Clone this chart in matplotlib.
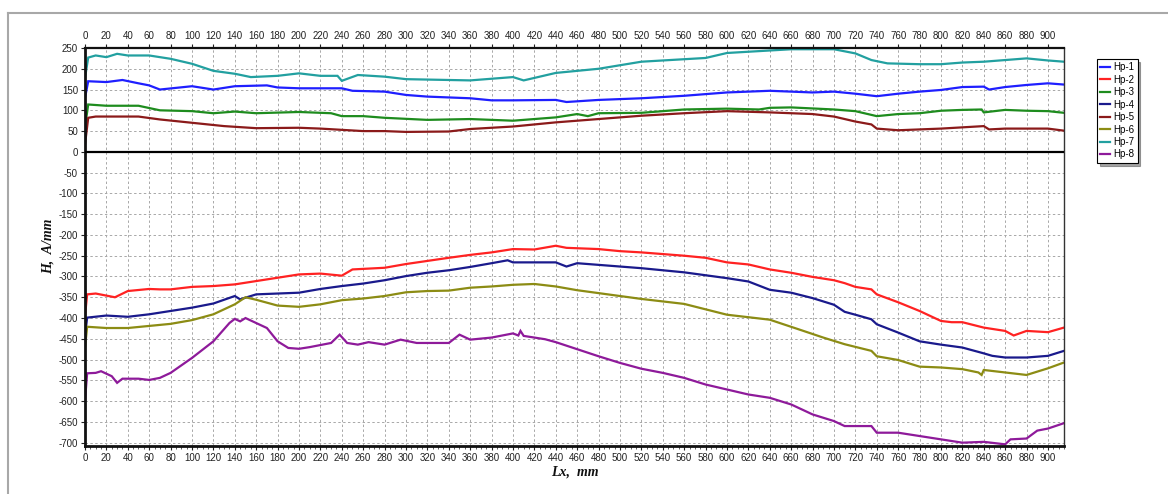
import matplotlib
matplotlib.use("Agg")
import matplotlib.pyplot as plt
from matplotlib.lines import Line2D
from matplotlib.ticker import MultipleLocator

plt.rcParams["font.family"] = ["Liberation Sans", "DejaVu Sans"]
plt.rcParams["axes.unicode_minus"] = False

# --- probe traces: position along the sample (mm) and field strength (A/mm) ---
hp1_x = [0, 3, 20, 35, 50, 60, 70, 100, 120, 140, 170, 180, 200, 240, 250, 280, 300, 320, 360,
         380, 400, 440, 450, 480, 520, 560, 600, 640, 680, 700, 720, 740, 760, 780, 800, 820,
         840, 845, 860, 880, 900, 915]
hp1_y = [130, 170, 168, 173, 165, 160, 150, 158, 150, 158, 160, 155, 153, 153, 147, 145, 137, 133, 129,
         124, 124, 125, 120, 125, 129, 135, 143, 147, 143, 145, 140, 134, 140, 145, 149, 156,
         157, 150, 156, 161, 165, 162]

hp2_x = [0, 2, 10, 20, 28, 40, 60, 70, 80, 100, 120, 140, 160, 180, 200, 220, 240, 250, 280, 300,
         340, 360, 380, 400, 420, 440, 450, 480, 500, 520, 560, 580, 600, 620, 640, 660, 680, 700,
         710, 720, 735, 740, 760, 780, 800, 810, 820, 840, 860, 868, 880, 900, 915]
hp2_y = [-395, -343, -341, -346, -350, -335, -330, -331, -331, -325, -323, -319, -311, -303, -295, -293,
         -298, -283, -279, -270, -255, -248, -242, -234, -235, -226, -231, -234, -239, -242, -250, -255,
         -266, -271, -283, -291, -301, -309, -316, -325, -331, -343, -362, -383, -407, -410, -410, -423,
         -431, -442, -431, -434, -423]

hp3_x = [0, 3, 20, 50, 70, 100, 120, 140, 160, 200, 230, 240, 260, 280, 320, 360, 400, 440, 460,
         470, 480, 520, 560, 600, 630, 640, 660, 700, 720, 740, 760, 780, 800, 820, 838, 840, 860,
         880, 900, 915]
hp3_y = [60, 114, 111, 111, 100, 98, 93, 97, 93, 96, 93, 86, 86, 82, 77, 79, 75, 83, 91,
         86, 93, 94, 102, 104, 102, 106, 107, 102, 98, 86, 91, 93, 99, 101, 102, 95, 101,
         99, 98, 94]

hp4_x = [0, 2, 20, 40, 60, 80, 100, 120, 140, 145, 160, 200, 220, 240, 260, 280, 300, 320, 340,
         360, 380, 395, 400, 440, 450, 460, 480, 520, 560, 600, 620, 640, 660, 680, 700, 710, 720,
         735, 740, 760, 780, 800, 820, 840, 848, 860, 880, 900, 915]
hp4_y = [-443, -399, -394, -397, -391, -383, -375, -365, -347, -355, -343, -339, -330, -323, -317, -309,
         -299, -291, -285, -277, -268, -261, -266, -266, -276, -268, -272, -280, -290, -304, -312, -332,
         -339, -352, -368, -385, -392, -403, -415, -435, -456, -464, -471, -485, -491, -495, -495, -491,
         -479]

hp5_x = [0, 3, 10, 50, 70, 100, 130, 160, 200, 220, 240, 260, 280, 300, 340, 360, 400, 440, 480,
         520, 560, 600, 640, 660, 680, 700, 720, 735, 740, 760, 800, 840, 845, 860, 900, 915]
hp5_y = [18, 82, 85, 85, 78, 70, 62, 57, 58, 56, 53, 50, 50, 48, 49, 55, 61, 71, 79,
         87, 93, 98, 95, 93, 91, 85, 73, 66, 56, 52, 56, 62, 54, 56, 56, 51]

hp6_x = [0, 2, 20, 40, 60, 80, 100, 120, 140, 150, 160, 180, 200, 220, 240, 260, 280, 300, 320,
         340, 360, 380, 400, 420, 440, 460, 480, 520, 560, 600, 640, 668, 690, 710, 735, 740, 760,
         780, 800, 820, 835, 838, 840, 860, 880, 900, 915]
hp6_y = [-471, -421, -424, -424, -419, -414, -405, -391, -367, -350, -356, -370, -373, -367, -357, -353,
         -347, -338, -335, -334, -327, -324, -320, -318, -324, -333, -340, -354, -366, -392, -404, -428,
         -447, -463, -479, -492, -501, -517, -519, -523, -531, -537, -525, -531, -537, -521, -507]

hp7_x = [0, 3, 10, 20, 30, 40, 60, 80, 100, 120, 140, 155, 180, 200, 220, 236, 240, 255, 280, 300,
         360, 400, 410, 440, 480, 520, 560, 580, 600, 640, 660, 700, 720, 735, 750, 780, 800, 820,
         840, 860, 880, 900, 915]
hp7_y = [178, 227, 232, 228, 236, 232, 232, 224, 212, 195, 188, 180, 183, 189, 183, 183, 171, 185, 181,
         175, 172, 180, 172, 190, 200, 217, 223, 226, 238, 244, 247, 247, 237, 221, 213, 211, 211,
         215, 217, 221, 225, 220, 217]

hp8_x = [0, 2, 10, 15, 25, 30, 35, 50, 60, 70, 80, 100, 120, 135, 140, 145, 150, 160, 170, 180,
         190, 200, 210, 230, 238, 245, 255, 265, 280, 295, 310, 340, 350, 360, 380, 400, 405, 407,
         410, 430, 440, 460, 480, 500, 520, 540, 560, 580, 600, 620, 640, 660, 680, 700, 710, 735,
         740, 760, 780, 800, 820, 840, 860, 865, 880, 890, 900, 915]
hp8_y = [-599, -533, -532, -528, -540, -556, -546, -546, -549, -544, -532, -496, -456, -412, -402, -408,
         -400, -412, -424, -456, -472, -474, -470, -460, -440, -460, -464, -458, -464, -452, -460, -460,
         -440, -452, -447, -437, -442, -431, -443, -451, -458, -475, -492, -508, -522, -532, -544, -560,
         -572, -584, -592, -608, -632, -648, -660, -660, -676, -676, -684, -692, -700, -698, -704, -692,
         -690, -671, -666, -653]

series = [
    ("Hp-1", hp1_x, hp1_y, "#1f1fff"),
    ("Hp-2", hp2_x, hp2_y, "#ff2222"),
    ("Hp-3", hp3_x, hp3_y, "#1e8c1e"),
    ("Hp-4", hp4_x, hp4_y, "#1a1a8c"),
    ("Hp-5", hp5_x, hp5_y, "#8b1a1a"),
    ("Hp-6", hp6_x, hp6_y, "#8c8c14"),
    ("Hp-7", hp7_x, hp7_y, "#22a0a0"),
    ("Hp-8", hp8_x, hp8_y, "#8e1a9a"),
]

W, H = 1168, 494
fig = plt.figure(figsize=(W / 100, H / 100), dpi=100, facecolor="white")
ax = fig.add_axes([85 / W, 1 - 446 / H, (1064 - 85) / W, (446 - 48) / H])

for name, xs, ys, col in series:
    ax.plot(xs, ys, color=col, lw=1.6, label=name, solid_joinstyle="miter")

ax.axhline(0, color="black", lw=1.6, zorder=3)

ax.set_xlim(0, 915)
ax.set_ylim(-708, 250)
ax.xaxis.set_major_locator(MultipleLocator(20))
ax.xaxis.set_minor_locator(MultipleLocator(5))
ax.yaxis.set_major_locator(MultipleLocator(50))

ax.grid(True, which="major", color="#a8a8a8", lw=0.7, linestyle=(0, (2.5, 2.5)))
ax.set_axisbelow(True)

ax.tick_params(axis="x", which="major", top=True, labeltop=True, length=3, width=0.8,
               labelsize=7, colors="#222222", pad=2)
ax.tick_params(axis="x", which="minor", bottom=True, top=False, length=2, width=0.6, color="#444444")
ax.tick_params(axis="y", which="major", length=3, width=0.8, labelsize=7, colors="#222222", pad=2)

for side in ["left", "bottom"]:
    ax.spines[side].set_linewidth(2.0)
    ax.spines[side].set_color("#111111")
ax.spines["top"].set_linewidth(1.6)
ax.spines["top"].set_color("#111111")
ax.spines["right"].set_linewidth(1.0)
ax.spines["right"].set_color("#333333")

fig.text(48 / W, 1 - 246 / H, "H,  A/mm", rotation=90, ha="center", va="center",
         family="Liberation Serif", fontweight="bold", fontstyle="italic", fontsize=10, color="#111111")
fig.text(575 / W, 1 - 472 / H, "Lx,  mm", ha="center", va="center",
         family="Liberation Serif", fontweight="bold", fontstyle="italic", fontsize=10, color="#111111")

leg = ax.legend(loc="upper left", bbox_to_anchor=(1097 / W, 1 - 59 / H), bbox_transform=fig.transFigure,
                fontsize=7, handlelength=1.0, handletextpad=0.3, labelspacing=0.25, borderpad=0.35,
                borderaxespad=0, fancybox=False, shadow=True, framealpha=1, edgecolor="black")
leg.get_frame().set_linewidth(0.8)
for line in leg.get_lines():
    line.set_linewidth(1.6)

# grey panel outline along the left and top
fig.add_artist(Line2D([8 / W, 8 / W], [0, 1 - 13 / H], color="#a8a8a8", lw=1.5))
fig.add_artist(Line2D([8 / W, 1], [1 - 13 / H, 1 - 13 / H], color="#a8a8a8", lw=1.5))

fig.savefig("out.png", dpi=100, facecolor="white")
